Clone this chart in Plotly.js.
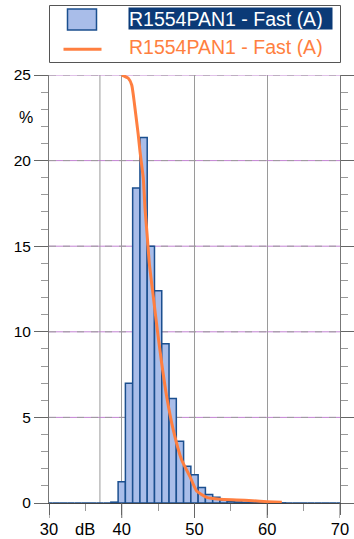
<!DOCTYPE html>
<html>
<head>
<meta charset="utf-8">
<script src="https://cdn.plot.ly/plotly-3.0.1.min.js"></script>
<style>
  html, body { margin: 0; padding: 0; background: #fff; }
  #chart { width: 354px; height: 539px; }
</style>
</head>
<body>
<div id="chart"></div>
<script>
// ---- data ----
const seriesName = "R1554PAN1 - Fast (A)";
const binCenters = [30,31,32,33,34,35,36,37,38,39,40,41,42,43,44,45,46,47,48,49,50,
                    51,52,53,54,55,56,57,58,59,60,61,62,63,64,65,66,67,68,69,70];
const binPct     = [0,0,0,0,0,0,0,0,0,0.05,1.24,7.0,18.4,21.35,15.0,12.4,9.3,6.1,3.6,2.15,1.65,
                    0.9,0.5,0.33,0.17,0.1,0.06,0.04,0.03,0.02,0.02,0.01,0.01,0,0,0,0,0,0,0,0];
const curveDb  = [40.0,40.9,41.37,41.59,41.82,42.05,42.27,42.51,42.74,42.96,43.2,43.5,43.79,
                  44.34,44.89,45.49,46.18,47.09,48.24,49.38,50.3,51.68,53.51,55.8,58.0,60.0,62.0];
const curvePct = [25.0,24.81,24.42,23.83,23.06,22.27,21.5,20.52,19.74,18.97,17.2,15.6,14.0,
                  12.05,10.11,8.16,6.21,4.26,2.51,1.54,0.7,0.33,0.22,0.18,0.13,0.08,0.04];
const xTicks = [30,40,50,60,70];
const xMinorTicks = [35,45,55,65];
const yTicks = [0,5,10,15,20,25];
const yGrid = [5,10,15,20,25];
const markerLineDb = 37;

// ---- layout helpers (pixel -> paper) ----
const W = 354, H = 539, L = 49, R = 14, T = 75, B = 36;
const pw = W - L - R, ph = H - T - B;
const px = x => (x - L) / pw;
const py = y => (H - B - y) / ph;

const FONT = "Liberation Sans, Arial, sans-serif";
const barFill = "#a9bde9", barLine = "#1b4f8f", orange = "#ff7f40";

const traces = [
  {
    type: "bar", x: binCenters, y: binPct, width: 1, name: seriesName,
    marker: { color: barFill, line: { color: barLine, width: 1.5 } },
    hoverinfo: "skip"
  },
  {
    type: "scatter", mode: "lines", x: curveDb, y: curvePct, name: seriesName,
    line: { color: orange, width: 3, shape: "spline", smoothing: 0.5 },
    hoverinfo: "skip"
  }
];

const shapes = [];
yGrid.forEach(v => {
  shapes.push({ type: "line", layer: "below", xref: "paper", x0: 0, x1: 1, yref: "y", y0: v, y1: v,
                line: { color: "#c383d3", width: 1 } });
  shapes.push({ type: "line", layer: "below", xref: "paper", x0: 0, x1: 1, yref: "y", y0: v, y1: v,
                line: { color: "#9c9c9c", width: 1, dash: "7px,7px" } });
});
shapes.push({ type: "line", layer: "below", xref: "x", x0: markerLineDb, x1: markerLineDb,
              yref: "paper", y0: 0, y1: 1, line: { color: "#9a9a9a", width: 1 } });
// longer major x ticks (label offset kept small)
xTicks.forEach(v => {
  shapes.push({ type: "line", xref: "x", x0: v, x1: v, yref: "paper", y0: py(503), y1: py(518),
                line: { color: "#666", width: 1 } });
});
// legend frame and swatches
shapes.push({ type: "rect", xref: "paper", yref: "paper", x0: px(49.5), x1: px(340.5), y0: py(62.5), y1: py(5.5),
              line: { color: "#555", width: 1 }, fillcolor: "rgba(0,0,0,0)" });
shapes.push({ type: "rect", xref: "paper", yref: "paper", x0: px(67.5), x1: px(96.5), y0: py(30), y1: py(9),
              line: { color: barLine, width: 1.5 }, fillcolor: barFill });
shapes.push({ type: "line", xref: "paper", yref: "paper", x0: px(63.5), x1: px(101.5), y0: py(49.3), y1: py(49.3),
              line: { color: orange, width: 3 } });

const annotations = [
  { text: "%", xref: "paper", yref: "paper", x: px(25.7), y: py(117.5), xanchor: "center", yanchor: "middle",
    showarrow: false, font: { family: FONT, size: 16, color: "#000" } },
  { text: "dB", xref: "x", yref: "paper", x: 35, y: py(528.5), xanchor: "center", yanchor: "middle",
    showarrow: false, font: { family: FONT, size: 16.5, color: "#000" } },
  { text: seriesName, xref: "paper", yref: "paper", x: px(128.3), y: py(18.8), xanchor: "left", yanchor: "middle",
    showarrow: false, bgcolor: "#0b3a77", borderpad: 0, width: 203, height: 21, align: "left",
    font: { family: FONT, size: 19.5, color: "#ffffff" } },
  { text: seriesName, xref: "paper", yref: "paper", x: px(128.3), y: py(46.5), xanchor: "left", yanchor: "middle",
    showarrow: false, borderpad: 0, width: 203, height: 21, align: "left",
    font: { family: FONT, size: 19.5, color: orange } }
];

const layout = {
  width: W, height: H,
  margin: { l: L, r: R, t: T, b: B, pad: 0 },
  paper_bgcolor: "#fff", plot_bgcolor: "#fff",
  showlegend: false, bargap: 0,
  font: { family: FONT, color: "#000" },
  xaxis: {
    range: [30, 70], tickmode: "array", tickvals: xTicks, ticktext: xTicks.map(String),
    ticks: "outside", ticklen: 11, tickcolor: "#666", tickwidth: 1,
    showgrid: true, gridcolor: "#9a9a9a", gridwidth: 1, zeroline: false,
    showline: true, linecolor: "#444", linewidth: 1,
    minor: { tickmode: "array", tickvals: xMinorTicks, ticks: "outside", ticklen: 7, tickcolor: "#999", showgrid: false },
    tickfont: { family: FONT, size: 16.5, color: "#000" }, fixedrange: true
  },
  yaxis: {
    range: [0, 25], tickmode: "array", tickvals: yTicks, ticktext: yTicks.map(String),
    ticks: "outside", ticklen: 14, tickcolor: "#666", tickwidth: 1,
    showgrid: false, zeroline: false,
    showline: true, linecolor: "#777", linewidth: 1, mirror: "ticks",
    minor: { dtick: 1, ticks: "outside", ticklen: 7, tickcolor: "#999", showgrid: false },
    tickfont: { family: FONT, size: 15.5, color: "#000" }, fixedrange: true
  },
  shapes: shapes,
  annotations: annotations
};

Plotly.newPlot("chart", traces, layout, { displayModeBar: false, staticPlot: true });
</script>
</body>
</html>
